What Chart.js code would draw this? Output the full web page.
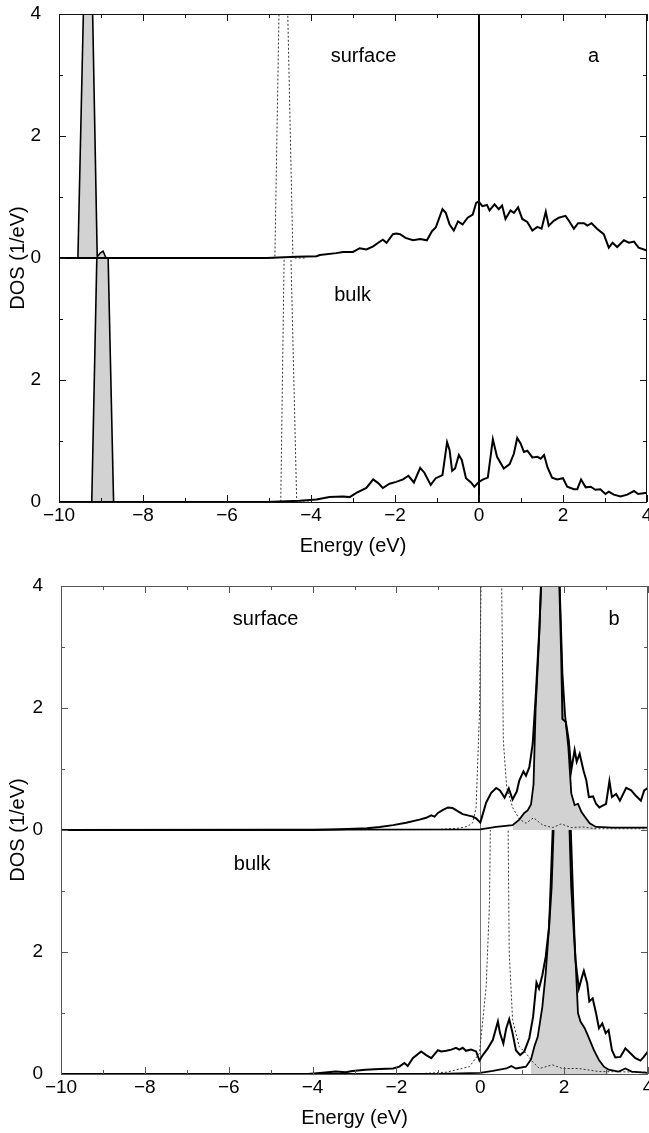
<!DOCTYPE html>
<html>
<head>
<meta charset="utf-8">
<script src="https://cdn.jsdelivr.net/npm/chart.js@4.4.1/dist/chart.umd.min.js"></script>
<style>
  html, body { margin: 0; padding: 0; background: #fff; }
  #wrap { position: relative; width: 649px; height: 1133px; }
  canvas { position: absolute; left: 0; display: block; }
  #ca { top: 0; }
  #cb { top: 566px; }
</style>
</head>
<body>
<div id="wrap">
  <canvas id="ca" width="649" height="566"></canvas>
  <canvas id="cb" width="649" height="567"></canvas>
</div>
<script>
(function () {
  "use strict";

  const FONT = "'Liberation Sans', Arial, Helvetica, sans-serif";
  const OFFSET = 4; // surface curves are drawn on top of the bulk ones

  const xTickLabels = ["−10", "", "−8", "", "−6", "", "−4", "", "−2", "", "0", "", "2", "", "4"];
  const yTickLabels = ["0", "", "2", "", "0", "", "2", "", "4"];

  // ---- panel a : [energy eV, DOS 1/eV] ----
  const aSurfTotal = [[-10,0],[-5.06,0],[-4.35,0.02],[-3.87,0.03],[-3.79,0.05],[-3.4,0.08],[-3.24,0.1],[-3.0,0.1],
    [-2.84,0.16],[-2.68,0.14],[-2.52,0.19],[-2.4,0.25],[-2.29,0.3],[-2.2,0.25],[-2.05,0.39],[-1.97,0.4],[-1.88,0.39],
    [-1.75,0.33],[-1.57,0.29],[-1.4,0.31],[-1.24,0.29],[-1.12,0.44],[-1.03,0.5],[-0.87,0.8],[-0.79,0.74],[-0.7,0.55],
    [-0.6,0.45],[-0.5,0.6],[-0.39,0.55],[-0.27,0.66],[-0.15,0.71],[-0.07,0.9],[-0.01,0.93],[0.08,0.85],[0.19,0.87],
    [0.25,0.78],[0.37,0.88],[0.47,0.8],[0.55,0.86],[0.63,0.64],[0.75,0.78],[0.83,0.74],[0.93,0.83],[1.03,0.64],
    [1.15,0.59],[1.27,0.45],[1.39,0.51],[1.49,0.48],[1.59,0.76],[1.66,0.53],[1.78,0.61],[1.9,0.66],[2.06,0.69],
    [2.14,0.61],[2.26,0.48],[2.36,0.57],[2.5,0.57],[2.58,0.53],[2.68,0.57],[2.81,0.48],[2.97,0.39],[3.09,0.17],
    [3.18,0.25],[3.29,0.18],[3.45,0.29],[3.57,0.25],[3.69,0.27],[3.8,0.17],[4.0,0.12]];
  const aSurfS = [[-9.7,0],[-9.55,0],[-9.3,7.7],[-9.09,0.02],[-9.02,0.08],[-8.95,0.11],[-8.88,0],[-8.7,0]];
  const aSurfDot = [[-5.3,0],[-4.86,0],[-4.67,7.8],[-4.43,0],[-4.1,0]];

  const aBulkTotal = [[-10,0],[-5.06,0],[-4.27,0.02],[-3.87,0.04],[-3.56,0.08],[-3.24,0.09],[-3.08,0.08],[-2.92,0.15],
    [-2.68,0.23],[-2.52,0.37],[-2.4,0.31],[-2.29,0.23],[-2.13,0.3],[-1.97,0.33],[-1.81,0.37],[-1.68,0.43],[-1.55,0.32],
    [-1.4,0.56],[-1.3,0.48],[-1.15,0.28],[-1.03,0.39],[-0.87,0.44],[-0.76,0.98],[-0.7,0.85],[-0.64,0.51],[-0.57,0.55],
    [-0.48,0.77],[-0.41,0.69],[-0.31,0.39],[-0.19,0.32],[-0.11,0.25],[0.0,0.33],[0.1,0.37],[0.21,0.4],[0.33,1.03],
    [0.43,0.74],[0.59,0.55],[0.73,0.62],[0.83,0.79],[0.91,1.05],[0.99,0.96],[1.07,0.82],[1.15,0.84],[1.27,0.73],
    [1.39,0.74],[1.47,0.71],[1.55,0.77],[1.63,0.57],[1.74,0.4],[1.86,0.37],[2.0,0.39],[2.1,0.25],[2.26,0.21],
    [2.34,0.21],[2.43,0.37],[2.54,0.24],[2.66,0.25],[2.77,0.2],[2.89,0.21],[3.01,0.13],[3.09,0.17],[3.21,0.12],
    [3.37,0.09],[3.53,0.12],[3.69,0.18],[3.79,0.13],[4.0,0.15]];
  const aBulkS = [[-9.4,0],[-9.22,0],[-8.97,8.3],[-8.7,0],[-8.5,0]];
  const aBulkDot = [[-5.0,0],[-4.72,0],[-4.58,7.0],[-4.34,0],[-4.0,0]];

  // ---- panel b ----
  const bSurfTotal = [[-10,0],[-4.0,0],[-3.5,0.01],[-3.0,0.02],[-2.7,0.03],[-2.4,0.05],[-2.08,0.08],[-1.77,0.12],
    [-1.45,0.17],[-1.29,0.2],[-1.17,0.24],[-1.09,0.22],[-1.01,0.28],[-0.89,0.33],[-0.77,0.37],[-0.66,0.36],
    [-0.54,0.31],[-0.42,0.26],[-0.3,0.24],[-0.18,0.22],[-0.1,0.19],[0.0,0.12],[0.06,0.26],[0.14,0.45],[0.26,0.61],
    [0.38,0.69],[0.47,0.65],[0.58,0.53],[0.68,0.68],[0.77,0.5],[0.87,0.63],[0.93,0.81],[1.03,0.96],[1.09,0.89],
    [1.17,1.03],[1.25,1.41],[1.33,2.28],[1.41,3.32],[1.65,7.6],[1.88,4.2],[1.93,2.89],[1.96,1.82],[2.04,1.77],
    [2.11,1.47],[2.17,0.98],[2.25,1.31],[2.3,1.12],[2.37,1.25],[2.46,0.98],[2.53,0.81],[2.59,0.54],[2.69,0.55],
    [2.76,0.43],[2.84,0.37],[2.92,0.4],[3.0,0.43],[3.08,0.8],[3.14,0.54],[3.24,0.59],[3.33,0.48],[3.48,0.69],
    [3.6,0.65],[3.71,0.56],[3.83,0.48],[3.91,0.65],[4.0,0.69]];
  const bSurfLow = [[-10,0],[0.0,0.01],[0.38,0.05],[0.77,0.08],[0.93,0.17],[1.05,0.28],[1.13,0.32],[1.21,0.42],
    [1.27,0.75],[1.32,2.0],[1.4,3.1],[1.65,7.6],[1.88,4.3],[1.96,2.56],[2.02,1.9],[2.1,1.36],[2.17,0.6],[2.25,0.41],
    [2.33,0.43],[2.41,0.3],[2.49,0.22],[2.61,0.11],[2.76,0.05],[3.16,0.04],[4.0,0.04]];
  const bSurfDot = [[-10,0],[-1.0,0.01],[-0.5,0.03],[-0.3,0.06],[-0.18,0.12],[-0.1,0.37],[-0.02,1.9],[0.1,8.5],
    [0.44,8.5],[0.55,1.46],[0.63,0.7],[0.77,0.37],[0.93,0.18],[1.09,0.11],[1.27,0.2],[1.49,0.08],[1.73,0.04],
    [1.93,0.1],[2.17,0.04],[2.45,0.05],[2.76,0.02],[4.0,0.02]];

  const bBulkTotal = [[-10,0],[-4.11,0],[-3.76,0.02],[-3.45,0.04],[-3.21,0.03],[-3.05,0.05],[-2.74,0.07],[-2.4,0.08],
    [-2.08,0.09],[-1.93,0.12],[-1.81,0.18],[-1.73,0.13],[-1.61,0.26],[-1.41,0.37],[-1.29,0.31],[-1.17,0.26],
    [-1.01,0.39],[-0.93,0.37],[-0.81,0.38],[-0.69,0.4],[-0.58,0.43],[-0.5,0.4],[-0.42,0.43],[-0.34,0.38],
    [-0.22,0.4],[-0.1,0.37],[-0.02,0.22],[0.06,0.31],[0.18,0.42],[0.3,0.56],[0.42,0.86],[0.47,0.67],[0.55,0.5],
    [0.62,0.75],[0.69,0.9],[0.77,0.67],[0.85,0.39],[0.95,0.31],[1.05,0.37],[1.17,0.59],[1.26,0.94],[1.34,1.5],
    [1.4,1.4],[1.48,1.62],[1.56,1.92],[1.64,2.41],[1.7,3.07],[1.95,8.2],[2.17,3.07],[2.27,1.87],[2.35,1.4],
    [2.43,1.6],[2.47,1.69],[2.55,1.49],[2.6,1.19],[2.68,1.24],[2.76,1.0],[2.83,0.75],[2.91,0.83],[2.99,0.67],
    [3.06,0.72],[3.14,0.39],[3.22,0.27],[3.34,0.28],[3.46,0.42],[3.58,0.34],[3.7,0.26],[3.82,0.22],[3.9,0.28],
    [4.0,0.37]];
  const bBulkLow = [[-10,0],[-1.0,0],[0.0,0.02],[0.3,0.05],[0.62,0.09],[0.74,0.13],[0.85,0.09],[1.09,0.12],
    [1.21,0.24],[1.29,0.45],[1.37,0.61],[1.48,1.1],[1.56,1.65],[1.64,2.41],[1.95,8.2],[2.25,2.2],[2.33,1.0],
    [2.39,0.86],[2.49,0.75],[2.58,0.61],[2.71,0.39],[2.83,0.23],[2.95,0.12],[3.06,0.07],[3.3,0.04],[3.46,0.09],
    [3.61,0.04],[4.0,0.02]];
  const bBulkDot = [[-10,0],[-1.6,0],[-0.8,0.03],[-0.26,0.12],[-0.02,0.34],[0.14,1.43],[0.22,2.8],[0.32,9],
    [0.6,9],[0.69,2.0],[0.77,0.89],[0.93,0.45],[1.09,0.34],[1.25,0.2],[1.41,0.09],[1.72,0.15],[1.96,0.09],
    [2.35,0.09],[2.83,0.04],[4.0,0.03]];

  function shift(points, dy) {
    return points.map((p) => ({ x: p[0], y: p[1] + dy }));
  }
  function within(points, lo, hi) {
    return points.filter((p) => p[0] >= lo && p[0] <= hi);
  }

  // surface (upper half) and bulk (lower half) each clip to their own band
  const bandClip = {
    id: "bandClip",
    beforeDatasetDraw(chart, args) {
      const ds = chart.data.datasets[args.index];
      if (!ds.band) return;
      const a = chart.chartArea;
      const mid = chart.scales.y.getPixelForValue(OFFSET);
      const top = ds.band === "surface" ? a.top - 3 : mid;
      const bottom = ds.band === "surface" ? mid + 2 : a.bottom + 3;
      const ctx = chart.ctx;
      ctx.save();
      ctx.beginPath();
      ctx.rect(a.left - 3, top, a.right - a.left + 6, bottom - top);
      ctx.clip();
    },
    afterDatasetDraw(chart, args) {
      if (chart.data.datasets[args.index].band) chart.ctx.restore();
    },
  };

  // filler draws fills in beforeDatasetDraw, so it has to run after bandClip
  const filler = Chart.registry && Chart.registry.getPlugin("filler");
  if (filler) {
    Chart.unregister(filler);
    Chart.register(bandClip, filler);
  } else {
    Chart.register(bandClip);
  }

  const frameCfg = {
    ca: {
      color: "#111",
      labels: [
        { text: "surface", x: -2.75, y: 7.21 },
        { text: "a", x: 2.73, y: 7.21 },
        { text: "bulk", x: -3.01, y: 3.3 },
      ],
    },
    cb: {
      color: "#555",
      labels: [
        { text: "surface", x: -5.12, y: 7.36 },
        { text: "b", x: 3.19, y: 7.36 },
        { text: "bulk", x: -5.44, y: 3.34 },
      ],
    },
  };

  // box, inward ticks and in-plot labels
  const frame = {
    id: "frame",
    afterDraw(chart) {
      const cfg = frameCfg[chart.canvas.id];
      const { ctx, chartArea: a } = chart;
      const xs = chart.scales.x;
      const ys = chart.scales.y;
      ctx.save();
      ctx.strokeStyle = cfg.color;
      ctx.lineWidth = 1;
      ctx.beginPath();
      xs.ticks.forEach((t) => {
        const px = Math.round(xs.getPixelForValue(t.value)) + 0.5;
        const len = Math.round(t.value) % 2 ? 4 : 7;
        ctx.moveTo(px, a.top);
        ctx.lineTo(px, a.top + len);
        ctx.moveTo(px, a.bottom);
        ctx.lineTo(px, a.bottom - len);
      });
      ys.ticks.forEach((t) => {
        const py = Math.round(ys.getPixelForValue(t.value)) + 0.5;
        const len = Math.round(t.value) % 2 ? 4 : 7;
        ctx.moveTo(a.left, py);
        ctx.lineTo(a.left + len, py);
        ctx.moveTo(a.right, py);
        ctx.lineTo(a.right - len, py);
      });
      ctx.stroke();
      ctx.strokeRect(Math.round(a.left) + 0.5, Math.round(a.top) + 0.5,
        Math.round(a.right - a.left) - 1, Math.round(a.bottom - a.top));
      ctx.fillStyle = "#000";
      ctx.font = "20px " + FONT;
      ctx.textAlign = "center";
      ctx.textBaseline = "alphabetic";
      cfg.labels.forEach((l) => {
        ctx.fillText(l.text, xs.getPixelForValue(l.x), ys.getPixelForValue(l.y));
      });
      ctx.restore();
    },
  };

  function solid(points, band, width) {
    return {
      data: shift(points, band === "surface" ? OFFSET : 0),
      band,
      borderColor: "#000",
      borderWidth: width,
      fill: false,
    };
  }
  function dotted(points, band) {
    return {
      data: shift(points, band === "surface" ? OFFSET : 0),
      band,
      borderColor: "#333",
      borderWidth: 1,
      borderDash: [2, 2],
      fill: false,
    };
  }
  function shaded(points, band, edge) {
    return {
      data: shift(points, band === "surface" ? OFFSET : 0),
      band,
      borderColor: edge ? "#000" : "rgba(0,0,0,0)",
      borderWidth: edge ? 1.6 : 1,
      backgroundColor: "#d2d2d2",
      fill: { value: band === "surface" ? OFFSET : 0 },
    };
  }

  function makeChart(id, datasets, box, fermi) {
    return new Chart(document.getElementById(id), {
      type: "line",
      data: { datasets },
      plugins: [frame],
      options: {
        responsive: false,
        animation: false,
        events: [],
        layout: { padding: { top: box.top, right: box.right, left: 0, bottom: 0 } },
        elements: { point: { radius: 0 }, line: { tension: 0 } },
        plugins: { legend: { display: false }, tooltip: { enabled: false } },
        scales: {
          x: {
            type: "linear",
            min: -10,
            max: 4,
            border: { display: false },
            grid: {
              drawTicks: false,
              color: (c) => (c.tick && c.tick.value === 0 ? fermi.color : "rgba(0,0,0,0)"),
              lineWidth: (c) => (c.tick && c.tick.value === 0 ? fermi.width : 0),
            },
            ticks: {
              stepSize: 1,
              autoSkip: false,
              maxRotation: 0,
              padding: 2,
              color: "#000",
              font: { family: FONT, size: 19 },
              callback: (v) => xTickLabels[Math.round(v) + 10],
            },
            title: {
              display: true,
              text: "Energy (eV)",
              color: "#000",
              font: { family: FONT, size: 20 },
              padding: { top: 0, bottom: box.titleBottom },
            },
            afterFit: (s) => {
              s.height = box.xHeight;
              s.paddingLeft = 0;
              s.paddingRight = 0;
            },
          },
          y: {
            min: 0,
            max: 8,
            border: { display: false },
            grid: { display: false },
            ticks: {
              stepSize: 1,
              autoSkip: false,
              padding: 10,
              color: "#000",
              font: { family: FONT, size: 19 },
              callback: (v) => yTickLabels[Math.round(v)],
            },
            title: {
              display: true,
              text: "DOS (1/eV)",
              color: "#000",
              font: { family: FONT, size: 20 },
              padding: { top: 6, bottom: 0 },
            },
            afterFit: (s) => {
              s.width = box.yWidth;
              s.paddingTop = 0;
              s.paddingBottom = 0;
            },
          },
        },
      },
    });
  }

  makeChart("ca", [
    solid(aSurfTotal, "surface", 2),
    solid(aBulkTotal, "bulk", 2),
    dotted(aSurfDot, "surface"),
    dotted(aBulkDot, "bulk"),
    shaded(aSurfS, "surface", true),
    shaded(aBulkS, "bulk", true),
  ], { top: 14, right: 2, yWidth: 59, xHeight: 64, titleBottom: 8 }, { color: "#000", width: 2 });

  makeChart("cb", [
    solid(bSurfTotal, "surface", 2),
    solid(bSurfLow, "surface", 1.8),
    solid(bBulkTotal, "bulk", 2),
    solid(bBulkLow, "bulk", 1.8),
    dotted(bSurfDot, "surface"),
    dotted(bBulkDot, "bulk"),
    shaded(within(bSurfLow, 0.7, 2.9), "surface", false),
    shaded(within(bBulkLow, 1.1, 3.1), "bulk", false),
  ], { top: 20, right: 1, yWidth: 61, xHeight: 59, titleBottom: 3 }, { color: "#777", width: 1 });
})();
</script>
</body>
</html>
